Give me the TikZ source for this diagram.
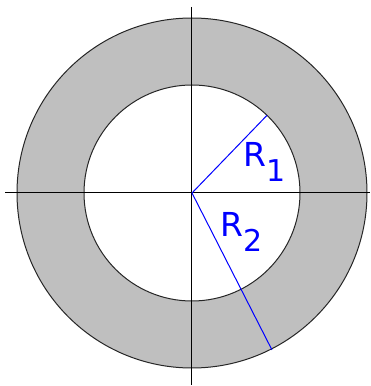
\documentclass[tikz,border=0pt]{standalone}
\usepackage{fontspec}
\setmainfont{DejaVu Sans}
\usetikzlibrary{calc}
\begin{document}
\begin{tikzpicture}[x=1pt,y=1pt,
  ring/.style={draw=black!85,line width=1pt},
  axis/.style={draw=black,line width=1pt},
  radius line/.style={draw=blue,line width=1pt},
  lbl/.style={text=blue,inner sep=0pt,anchor=base west,font=\fontsize{33}{33}\selectfont}]
\useasboundingbox (0,0) rectangle (371,386);
\coordinate (C) at (192,193);
\fill[black!25] (C) circle (175);
\fill[white] (C) circle (108);
\draw[ring] (C) circle (175);
\draw[ring] (C) circle (108);
\coordinate (L) at (5,193);
\coordinate (Rr) at (370,193);
\coordinate (T) at (191,379);
\coordinate (B) at (191,1);
\draw[axis] (L) -- (Rr);
\draw[axis] (T) -- (B);
\coordinate (P1) at ($(C)+(46:108)$);
\coordinate (P2) at ($(C)+(-63:176)$);
\draw[radius line] (C) -- (P1);
\draw[radius line] (C) -- (P2);
\node[lbl] (r1) at (243,219) {R\raisebox{-15pt}{\fontsize{30}{30}\selectfont 1}};
\node[lbl] (r2) at (220,149) {R\raisebox{-15pt}{\fontsize{30}{30}\selectfont 2}};
\end{tikzpicture}
\end{document}
